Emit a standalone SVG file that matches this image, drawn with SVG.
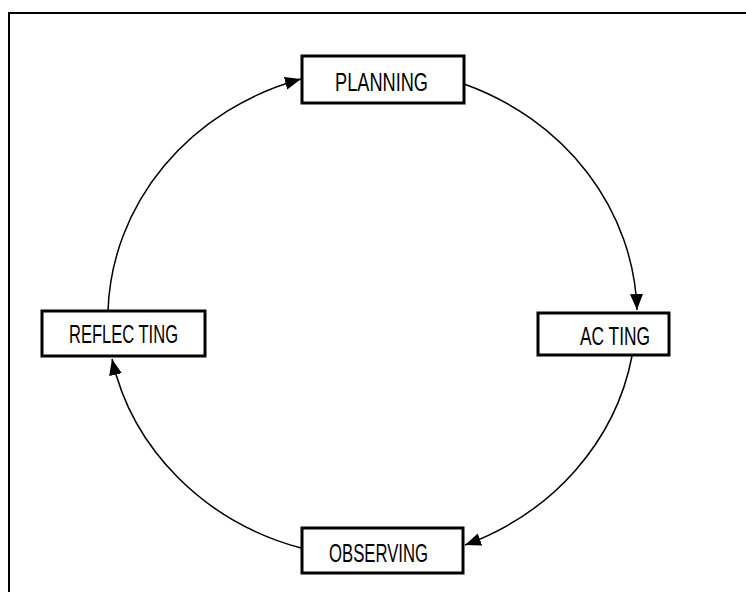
<svg xmlns="http://www.w3.org/2000/svg" width="746" height="592" viewBox="0 0 746 592">
<style>
.box{fill:#fff;stroke:#000;stroke-width:3}
.lbl{font-family:"Liberation Sans",Arial,sans-serif;font-size:25px;fill:#000}
.arc{fill:none;stroke:#000;stroke-width:1.5;marker-end:url(#ah)}
</style>
<defs>
<marker id="ah" markerUnits="userSpaceOnUse" markerWidth="17" markerHeight="14" refX="16" refY="6.5" orient="auto">
<path d="M0,0 L16,6.5 L0,13 z" fill="#000"/>
</marker>
</defs>
<rect width="746" height="592" fill="#fff"/>
<path d="M9,592 V13 H746" fill="none" stroke="#000" stroke-width="2"/>
<g id="connectors">
<path class="arc" d="M464,84 A270 250 0 0 1 637,310"/>
<path class="arc" d="M632,356 A270 250 0 0 1 465,545"/>
<path class="arc" d="M301,548 A270 250 0 0 1 112,359"/>
<path class="arc" d="M108,311 A270 250 0 0 1 301,79"/>
</g>
<g id="planning">
<rect class="box" x="302" y="56" width="162" height="47"/>
<text class="lbl" x="335" y="91" textLength="93" lengthAdjust="spacingAndGlyphs">PLANNING</text>
</g>
<g id="acting">
<rect class="box" x="538" y="313" width="131" height="42"/>
<text class="lbl" x="580" y="345" textLength="70" lengthAdjust="spacingAndGlyphs">AC TING</text>
</g>
<g id="observing">
<rect class="box" x="302" y="528" width="161" height="45"/>
<text class="lbl" x="329" y="562" textLength="99" lengthAdjust="spacingAndGlyphs">OBSERVING</text>
</g>
<g id="reflecting">
<rect class="box" x="42" y="311" width="163" height="45"/>
<text class="lbl" x="69" y="343" textLength="109" lengthAdjust="spacingAndGlyphs">REFLEC TING</text>
</g>
</svg>
